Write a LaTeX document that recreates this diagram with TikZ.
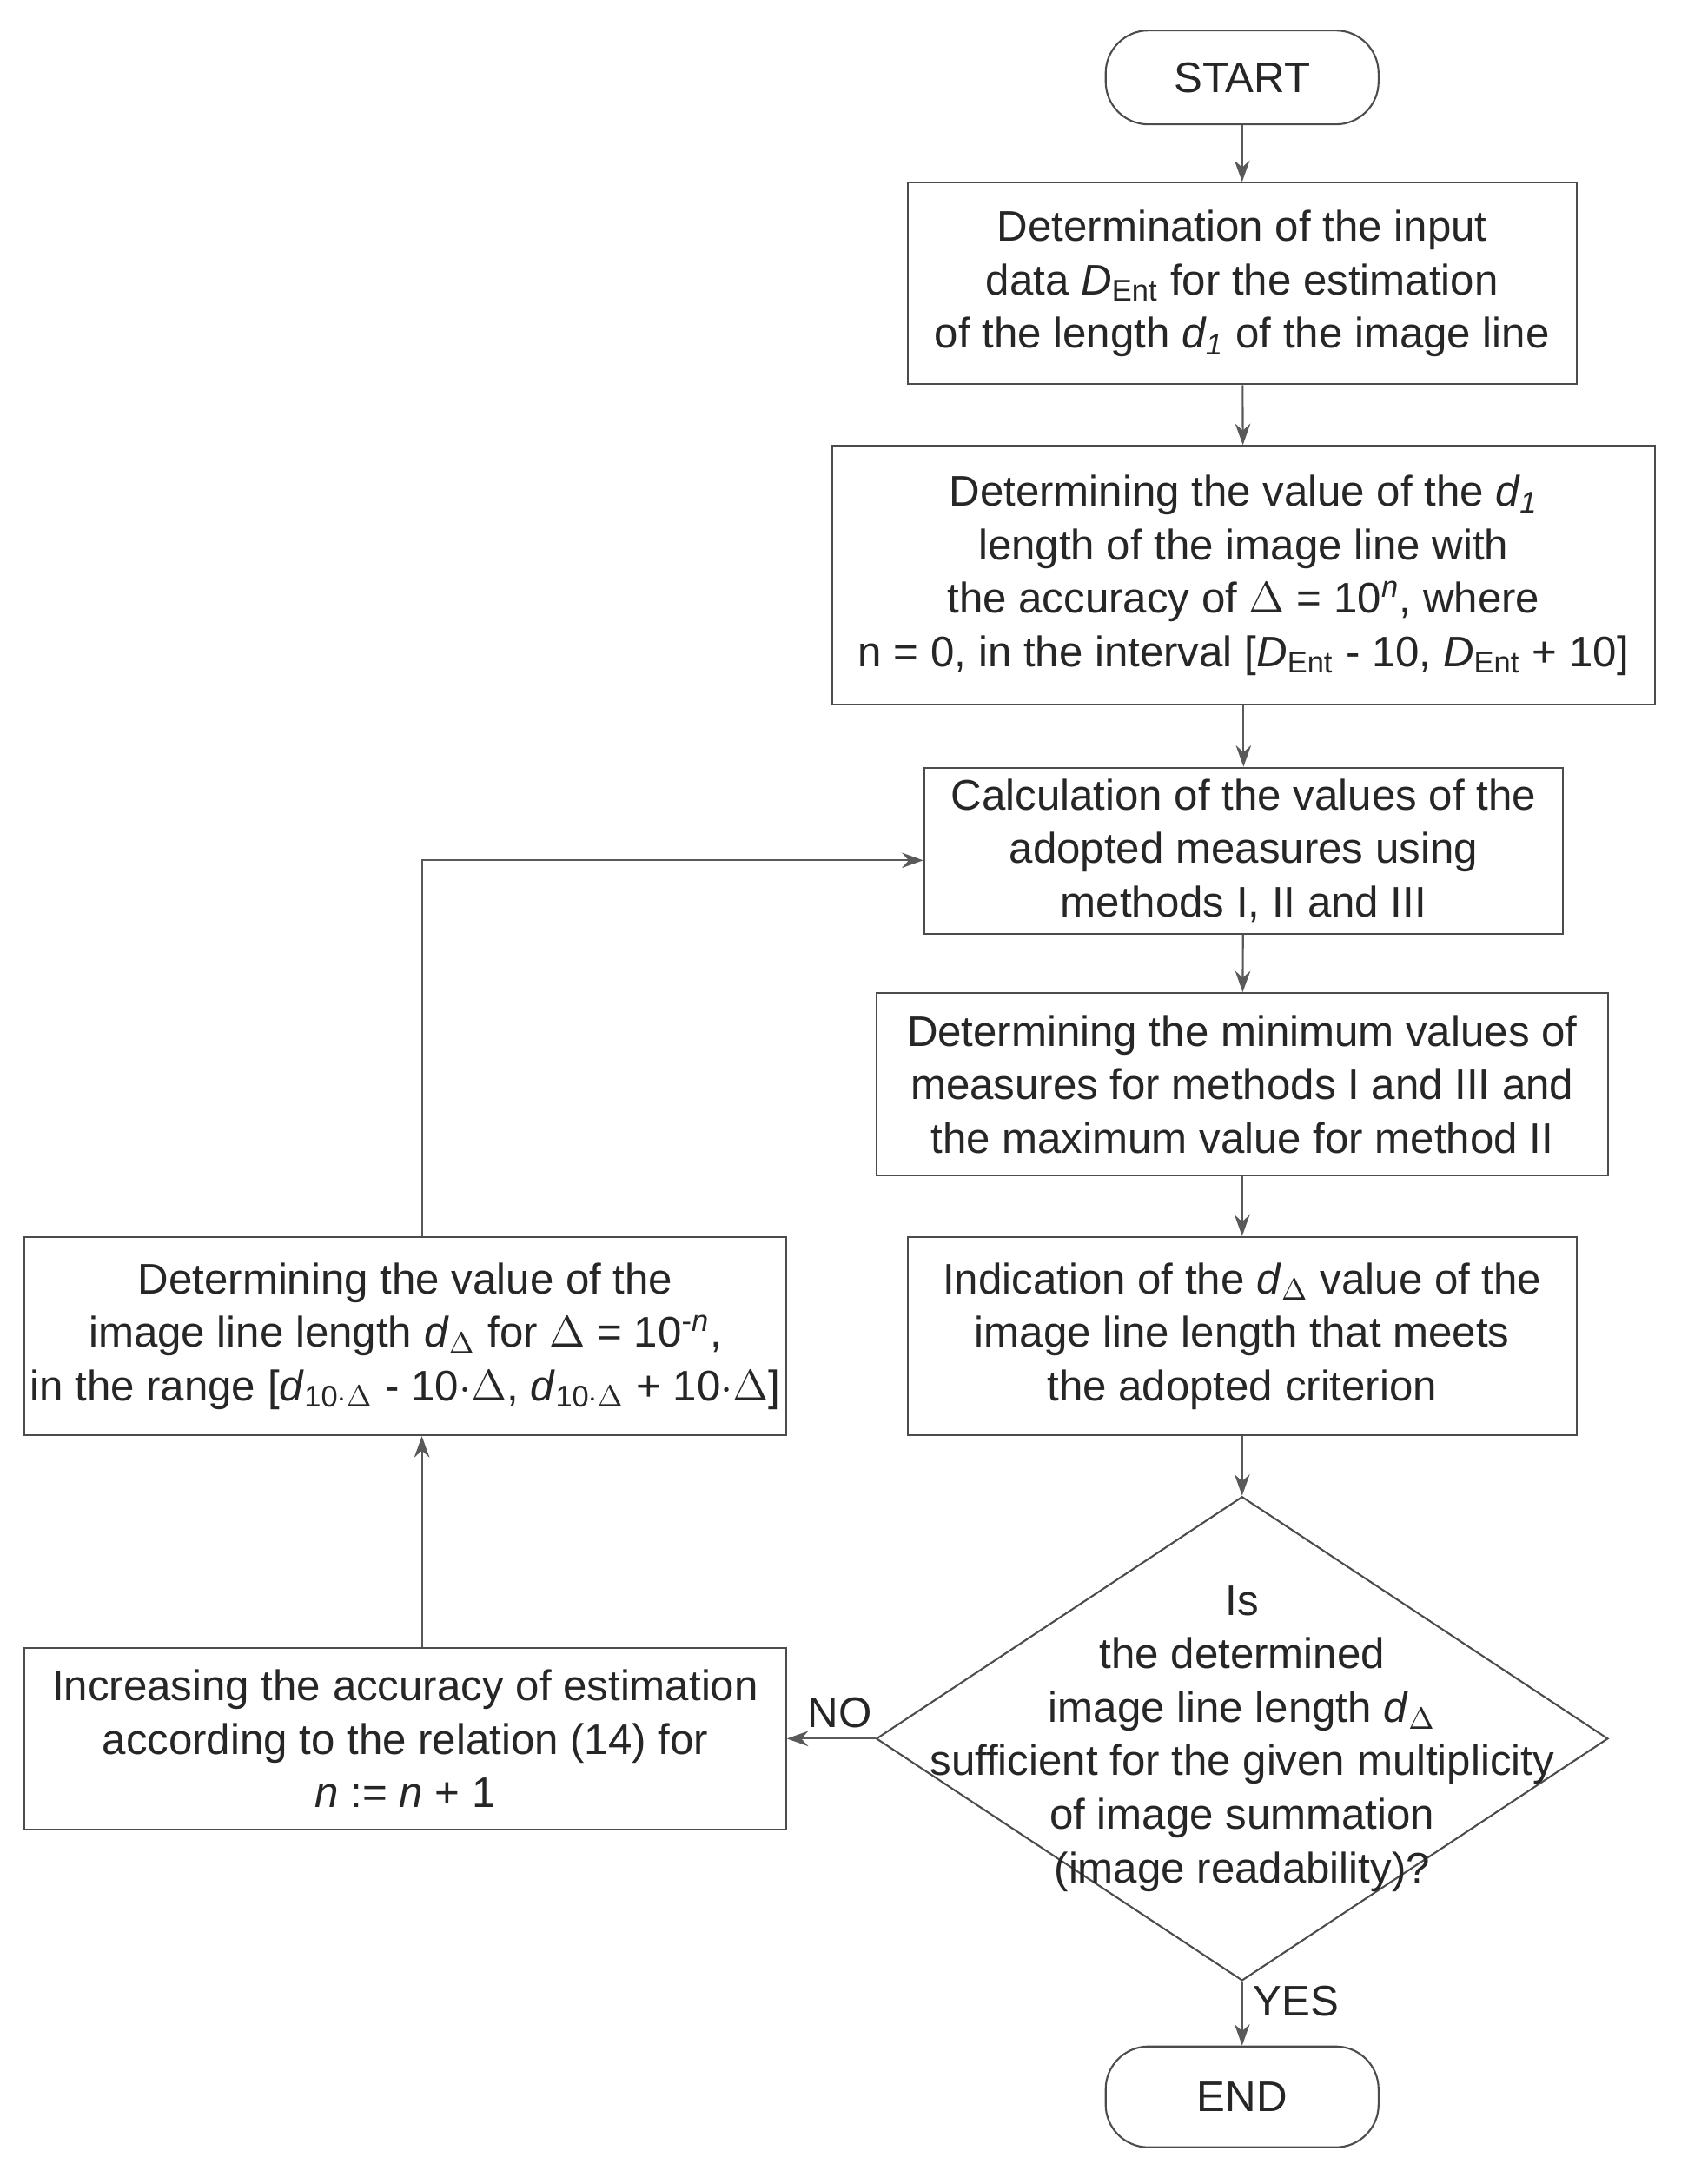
\documentclass[tikz,border=0pt]{standalone}
\usepackage{fontspec}
\setmainfont{Liberation Sans}
\usetikzlibrary{shapes.geometric,arrows.meta}
\begin{document}
\begin{tikzpicture}[x=0.01592cm, y=-0.01592cm,
        every node/.style = {font=\fontsize{14}{17.5}\selectfont, text=black!85},
        box/.style = {draw=black!70, line width=0.6pt, align=center, inner sep=0pt},
        term/.style = {box, rounded corners=14pt, minimum width=197\pgfxunit, minimum height=68\pgfxunit},
        dec/.style = {box, diamond, minimum width=529\pgfxunit, minimum height=350\pgfxunit, aspect=1.51},
        arr/.style = {-{Stealth[length=7pt,width=5pt]}, draw=black!65, line width=0.6pt}]
        \useasboundingbox (0,0) rectangle (1220,1579);
        \def\pgfxunit{\pgflinewidth}
        \node[term, minimum width=3.14cm, minimum height=1.08cm] (start) at (898,56) {START};
        \node[box, minimum width=7.7cm, minimum height=2.32cm] (input) at (898,205)
            {Determination of the input\\ data \textit{D}\textsubscript{Ent} for the estimation\\ of the length \textit{d\textsubscript{1}} of the image line};
        \node[box, minimum width=9.46cm, minimum height=2.98cm] (length) at (899,416)
            {Determining the value of the \textit{d\textsubscript{1}}\\ length of the image line with\\ the accuracy of $\Delta$ = 10\textsuperscript{\textit{n}}, where\\ n = 0, in the interval [\textit{D}\textsubscript{Ent} - 10, \textit{D}\textsubscript{Ent} + 10]};
        \node[box, minimum width=7.35cm, minimum height=1.91cm] (calc) at (899,615)
            {Calculation of the values of the\\ adopted measures using\\ methods I, II and III};
        \node[box, minimum width=8.42cm, minimum height=2.1cm] (minmax) at (898,784)
            {Determining the minimum values of\\ measures for methods I and III and\\ the maximum value for method II};
        \node[box, minimum width=7.7cm, minimum height=2.28cm] (indic) at (898,966)
            {Indication of the \textit{d}\textsubscript{$\Delta$} value of the\\ image line length that meets\\ the adopted criterion};
        \node[box, diamond, minimum width=8.42cm, minimum height=5.57cm, inner sep=0pt] (check) at (898,1257) {};
        \node[align=center] at (898,1257)
            {Is\\ the determined\\ image line length \textit{d}\textsubscript{$\Delta$}\\ sufficient for the given multiplicity\\ of image summation\\ (image readability)?};
        \node[box, rounded corners=14pt, minimum width=3.14cm, minimum height=1.16cm] (end) at (898,1516) {END};
        \node[box, minimum width=8.76cm, minimum height=2.28cm] (range) at (293,966)
            {Determining the value of the\\ image line length \textit{d}\textsubscript{$\Delta$} for $\Delta$ = 10\textsuperscript{-\textit{n}},\\ in the range [\textit{d}\textsubscript{10$\cdot\Delta$} - 10$\cdot\Delta$, \textit{d}\textsubscript{10$\cdot\Delta$} + 10$\cdot\Delta$]};
        \node[box, minimum width=8.76cm, minimum height=2.09cm] (incr) at (293,1257)
            {Increasing the accuracy of estimation\\ according to the relation (14) for\\ \textit{n} := \textit{n} + 1};
        \coordinate (turn) at (305,622);

        \draw[arr] (start) -- (input);
        \draw[arr] (input) -- (length);
        \draw[arr] (length) -- (calc);
        \draw[arr] (calc) -- (minmax);
        \draw[arr] (minmax) -- (indic);
        \draw[arr] (indic) -- (check.north);
        \draw[arr] (check.south) -- node[right, pos=0.3] {YES} (end);
        \draw[arr] (check.west) -- node[above, pos=0.4] {NO} (incr.east);
        \draw[arr] (incr.north -| turn) -- (range.south -| turn);
        \draw[arr] (range.north -| turn) -- (turn) -- (calc.west |- turn);
\end{tikzpicture}
\end{document}
